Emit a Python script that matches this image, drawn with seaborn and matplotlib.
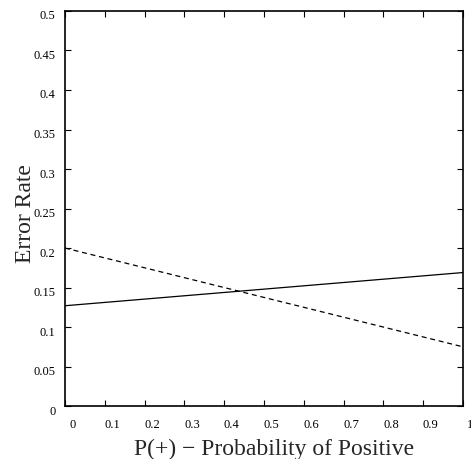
import matplotlib
matplotlib.use("Agg")
import matplotlib.pyplot as plt
import matplotlib.transforms as mtransforms
import seaborn as sns
import pandas as pd

# Cost-curve endpoints: error rate at P(+) = 0 and P(+) = 1
p_pos = [0.0, 1.0]
classifier_a = [0.127, 0.169]
classifier_b = [0.200, 0.075]

x_ticks = [0, 0.1, 0.2, 0.3, 0.4, 0.5, 0.6, 0.7, 0.8, 0.9, 1.0]
x_tick_labels = ["0", "0.1", "0.2", "0.3", "0.4", "0.5", "0.6", "0.7", "0.8", "0.9", "1"]
y_ticks = [0, 0.05, 0.1, 0.15, 0.2, 0.25, 0.3, 0.35, 0.4, 0.45, 0.5]
y_tick_labels = ["0", "0.05", "0.1", "0.15", "0.2", "0.25", "0.3", "0.35", "0.4", "0.45", "0.5"]

sns.set_style("ticks")
plt.rcParams["font.family"] = ["Liberation Serif", "DejaVu Serif"]
plt.rcParams["xtick.direction"] = "in"
plt.rcParams["ytick.direction"] = "in"

fig = plt.figure(figsize=(4.71, 4.60), dpi=100)
ax = fig.add_axes([0.138, 0.115, 0.845, 0.859])

df_a = pd.DataFrame({"p": p_pos, "err": classifier_a})
df_b = pd.DataFrame({"p": p_pos, "err": classifier_b})
sns.lineplot(data=df_a, x="p", y="err", ax=ax, color="black", linewidth=0.9)
sns.lineplot(data=df_b, x="p", y="err", ax=ax, color="black", linewidth=0.9,
             linestyle=(0, (4, 3)))

ax.set_xlim(0, 1)
ax.set_ylim(0, 0.5)
ax.set_xticks(x_ticks)
ax.set_xticklabels(x_tick_labels, fontsize=9)
ax.set_yticks(y_ticks)
ax.set_yticklabels(y_tick_labels, fontsize=9)
ax.tick_params(axis="both", which="both", direction="in", length=4, width=0.8,
               top=True, right=True, colors="black")
ax.tick_params(axis="x", pad=8.5)
ax.tick_params(axis="y", pad=7)

# tick labels sit a little right of / below their ticks
dx = mtransforms.ScaledTranslation(7.5 / 100, 0, fig.dpi_scale_trans)
for lbl in ax.get_xticklabels():
    lbl.set_transform(lbl.get_transform() + dx)
dy = mtransforms.ScaledTranslation(0, -3 / 100, fig.dpi_scale_trans)
for lbl in ax.get_yticklabels():
    lbl.set_transform(lbl.get_transform() + dy)

for s in ax.spines.values():
    s.set_linewidth(1.2)
    s.set_color("black")

ax.set_xlabel("P(+) \u2212 Probability of Positive", fontsize=17)
ax.set_ylabel("Error Rate", fontsize=17)
ax.xaxis.set_label_coords(0.525, -0.081)
ax.yaxis.set_label_coords(-0.0725, 0.49)

fig.savefig("out.png", dpi=100)
